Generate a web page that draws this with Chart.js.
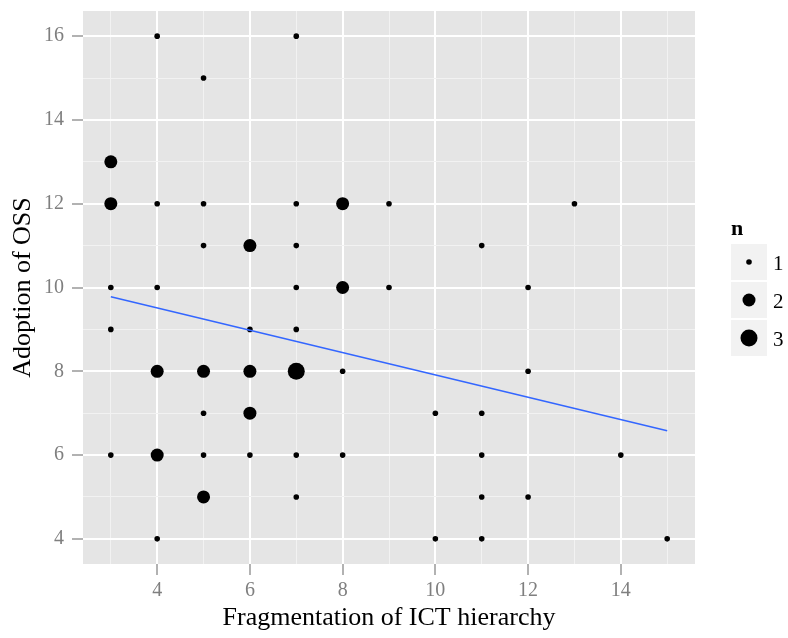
<!DOCTYPE html>
<html>
<head>
<meta charset="utf-8">
<script src="https://cdn.jsdelivr.net/npm/chart.js@4/dist/chart.umd.min.js"></script>
<style>
  html, body { margin:0; padding:0; background:#fff; }
  #wrap { width:788px; height:638px; }
</style>
</head>
<body>
<div id="wrap"><canvas id="chart" width="788" height="638"></canvas></div>
<script>
// observed (x, y, count) combinations
const fragX = [4,7, 5, 3, 3,4,5,7,8,9,13, 5,6,7,11, 3,4,7,8,9,12, 3,6,7, 4,5,6,7,8,12, 5,6,10,11, 3,4,5,6,7,8,11,14, 5,7,11,12, 4,10,11,15];
const ossY  = [16,16, 15, 13, 12,12,12,12,12,12,12, 11,11,11,11, 10,10,10,10,10,10, 9,9,9, 8,8,8,8,8,8, 7,7,7,7, 6,6,6,6,6,6,6,6, 5,5,5,5, 4,4,4,4];
const count = [1,1, 1, 2, 2,1,1,1,2,1,1, 1,2,1,1, 1,1,1,2,1,1, 1,1,1, 2,2,2,3,1,1, 1,2,1,1, 1,2,1,1,1,1,1,1, 2,1,1,1, 1,1,1,1];

// linear fit endpoints
const fitX = [3, 15];
const fitY = [9.78, 6.58];

const xGrid = [3,4,5,6,7,8,9,10,11,12,13,14,15];
const yGrid = [4,5,6,7,8,9,10,11,12,13,14,15,16];
const legendCounts = [1, 2, 3];

const radiusFor = { 1: 2.8, 2: 6.5, 3: 8.5 };
const FONT = "'Liberation Serif', 'DejaVu Serif', serif";

const isMajor = v => v % 2 === 0;

const panelBg = {
  id: 'panelBg',
  beforeDraw(chart) {
    const { ctx, chartArea: a } = chart;
    ctx.save();
    ctx.fillStyle = '#E5E5E5';
    ctx.fillRect(a.left, a.top, a.right - a.left, a.bottom - a.top);
    ctx.restore();
  }
};

const sizeLegend = {
  id: 'sizeLegend',
  afterDraw(chart) {
    const ctx = chart.ctx;
    const left = 731, top = 244, key = 36, gap = 2;
    ctx.save();
    ctx.fillStyle = '#000';
    ctx.font = `bold 22px ${FONT}`;
    ctx.textBaseline = 'middle';
    ctx.textAlign = 'left';
    ctx.fillText('n', left, 229);
    legendCounts.forEach((n, i) => {
      const y = top + i * (key + gap);
      ctx.fillStyle = '#F2F2F2';
      ctx.fillRect(left, y, key, key);
      ctx.fillStyle = '#000';
      ctx.beginPath();
      ctx.arc(left + key / 2, y + key / 2, radiusFor[n], 0, Math.PI * 2);
      ctx.fill();
      ctx.font = `21px ${FONT}`;
      ctx.fillText(String(n), left + key + 6, y + key / 2 + 2);
    });
    ctx.restore();
  }
};

new Chart(document.getElementById('chart'), {
  type: 'scatter',
  data: {
    datasets: [
      {
        label: 'fit',
        type: 'line',
        data: fitX.map((x, i) => ({ x, y: fitY[i] })),
        borderColor: '#3366FF',
        borderWidth: 1.5,
        pointRadius: 0,
        fill: false,
        order: 1
      },
      {
        label: 'n',
        data: fragX.map((x, i) => ({ x, y: ossY[i] })),
        backgroundColor: '#000',
        borderWidth: 0,
        pointRadius: ctx => radiusFor[count[ctx.dataIndex]],
        pointHoverRadius: ctx => radiusFor[count[ctx.dataIndex]],
        order: 2
      }
    ]
  },
  options: {
    responsive: false,
    animation: false,
    layout: { padding: { top: 11, right: 93, left: 0, bottom: 0 } },
    plugins: { legend: { display: false }, tooltip: { enabled: false } },
    scales: {
      x: {
        type: 'linear',
        min: 2.4, max: 15.6,
        afterBuildTicks: s => { s.ticks = xGrid.map(v => ({ value: v })); },
        afterFit: s => { s.height = 74; s.paddingLeft = 0; s.paddingRight = 0; },
        border: { display: false },
        grid: {
          color: c => isMajor(c.tick.value) ? '#FFFFFF' : '#F2F2F2',
          lineWidth: c => isMajor(c.tick.value) ? 2 : 1,
          tickColor: c => isMajor(c.tick.value) ? '#7F7F7F' : 'rgba(0,0,0,0)',
          tickWidth: 1.2,
          tickLength: 11
        },
        ticks: {
          autoSkip: false,
          maxRotation: 0,
          padding: 4,
          color: '#7F7F7F',
          font: { family: FONT, size: 20 },
          callback: v => isMajor(v) ? String(v) : ''
        },
        title: {
          display: true,
          text: 'Fragmentation of ICT hierarchy',
          color: '#000',
          font: { family: FONT, size: 26 },
          padding: { top: 4, bottom: 4 }
        }
      },
      y: {
        type: 'linear',
        min: 3.4, max: 16.6,
        afterBuildTicks: s => { s.ticks = yGrid.map(v => ({ value: v })); },
        afterFit: s => { s.width = 83; s.paddingTop = 0; s.paddingBottom = 0; },
        border: { display: false },
        grid: {
          color: c => isMajor(c.tick.value) ? '#FFFFFF' : '#F2F2F2',
          lineWidth: c => isMajor(c.tick.value) ? 2 : 1,
          tickColor: c => isMajor(c.tick.value) ? '#7F7F7F' : 'rgba(0,0,0,0)',
          tickWidth: 1.2,
          tickLength: 11
        },
        ticks: {
          autoSkip: false,
          padding: 8,
          color: '#7F7F7F',
          font: { family: FONT, size: 20 },
          callback: v => isMajor(v) ? String(v) : ''
        },
        title: {
          display: true,
          text: 'Adoption of OSS',
          color: '#000',
          font: { family: FONT, size: 26 },
          padding: { top: 8, bottom: 8 }
        }
      }
    }
  },
  plugins: [panelBg, sizeLegend]
});
</script>
</body>
</html>
